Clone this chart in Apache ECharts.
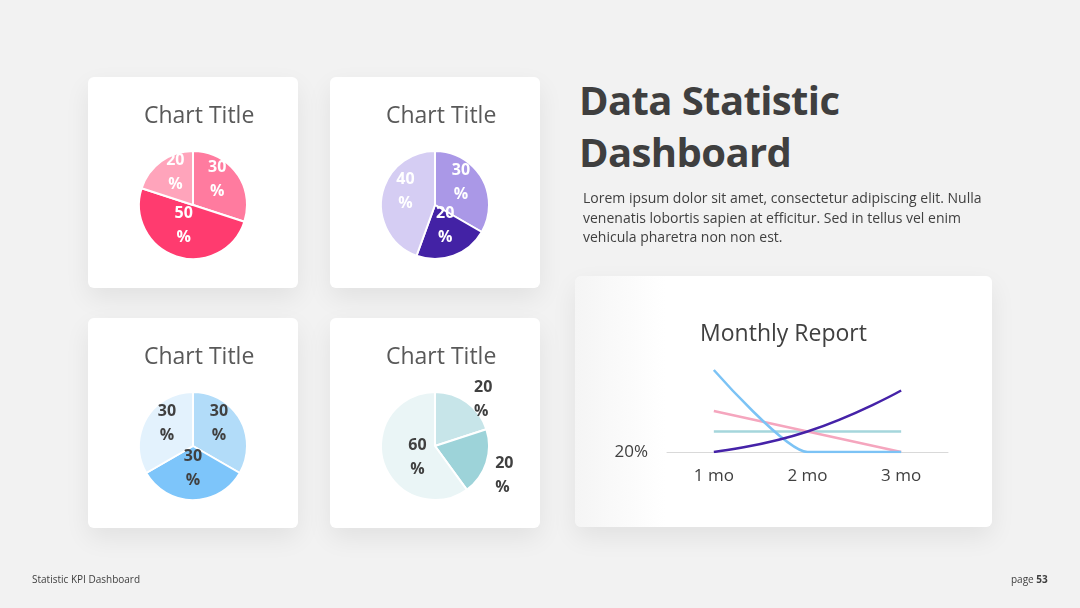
<!DOCTYPE html>
<html>
<head>
<meta charset="utf-8">
<script src="https://cdn.jsdelivr.net/npm/echarts@6/dist/echarts.min.js"></script>
<style>
  html, body { margin: 0; padding: 0; }
  body {
    width: 1080px; height: 608px; position: relative; overflow: hidden;
    background: #f2f2f2; font-family: "Open Sans", "Noto Sans", sans-serif; color: #404040;
  }
  .card {
    position: absolute; background: #fff; border-radius: 6px;
    box-shadow: 0 10px 26px rgba(0, 0, 0, 0.07);
  }
  #line-report { background: linear-gradient(to right, #f5f5f5, #ffffff 90px); }
  #title {
    position: absolute; left: 579px; top: 74px; margin: 0;
    font-size: 40px; line-height: 52px; font-weight: 700; color: #3f3f3f; letter-spacing: -0.6px;
  }
  #desc {
    position: absolute; left: 583px; top: 188px; margin: 0;
    font-size: 14px; line-height: 19.5px; color: #404040;
  }
  #footer-left { position: absolute; left: 32px; top: 572px; font-size: 10px; color: #404040; }
  #footer-right { position: absolute; left: 1011px; top: 572px; font-size: 10px; color: #404040; }
</style>
</head>
<body>
  <div class="card" id="pie-1" style="left:88px;top:77px;width:210px;height:211px"></div>
  <div class="card" id="pie-2" style="left:330px;top:77px;width:210px;height:211px"></div>
  <div class="card" id="pie-3" style="left:88px;top:318px;width:210px;height:210px"></div>
  <div class="card" id="pie-4" style="left:330px;top:318px;width:210px;height:210px"></div>
  <div class="card" id="line-report" style="left:575px;top:276px;width:417px;height:251px"></div>

  <h1 id="title">Data Statistic<br>Dashboard</h1>
  <p id="desc">Lorem ipsum dolor sit amet, consectetur adipiscing elit. Nulla<br>venenatis lobortis sapien at efficitur. Sed in tellus vel enim<br>vehicula pharetra non non est.</p>
  <div id="footer-left">Statistic KPI Dashboard</div>
  <div id="footer-right">page <b>53</b></div>

<script>
"use strict";

// pie charts (clockwise from 12 o'clock)
var pieTitle = "Chart Title";
var pie1Values = [30, 50, 20];
var pie2Values = [30, 20, 40];
var pie3Values = [30, 30, 30];
var pie4Values = [20, 20, 60];

// monthly report
var months = ["1 mo", "2 mo", "3 mo"];
var blueValues = [40, 20, 20];
var pinkValues = [30, 25, 20];
var tealValues = [25, 25, 25];
var purpleValues = [20, 25, 35];
var yTicks = [20, 30, 40];

var pieColors1 = ["#ff7b9f", "#ff3b6f", "#ffa4bb"];
var pieColors2 = ["#aa98e7", "#4322a5", "#d5cdf3"];
var pieColors3 = ["#b2dcf9", "#7dc5fa", "#e3f2fd"];
var pieColors4 = ["#c7e5e9", "#9dd3d9", "#eaf5f6"];

// powerpoint puts the inside labels a bit higher than echarts does,
// a short empty last line lifts the text a few px
var liftUp = { formatter: "{c}\n%\n{gap|}" };

function pieOption(values, colors, labelColor, labelTweaks) {
  return {
    animation: false,
    title: {
      text: pieTitle,
      left: 51,
      top: 23,
      textStyle: { fontFamily: "Open Sans", fontSize: 23, fontWeight: "normal", color: "#595959" },
    },
    series: [
      {
        type: "pie",
        center: [105, 128],
        radius: 54,
        startAngle: 90,
        clockwise: true,
        avoidLabelOverlap: false,
        itemStyle: { borderColor: "#fff", borderWidth: 2 },
        label: {
          show: true,
          position: "inside",
          formatter: "{c}\n%",
          color: labelColor,
          fontFamily: "Open Sans",
          fontWeight: "bold",
          fontSize: 16,
          lineHeight: 24,
          rich: { gap: { lineHeight: 16, fontSize: 1 } },
        },
        labelLine: { show: false },
        labelLayout: { hideOverlap: false },
        data: values.map(function (v, i) {
          var item = { value: v, itemStyle: { color: colors[i] } };
          var tweak = labelTweaks ? labelTweaks[i] : liftUp;
          if (tweak) {
            item.label = tweak;
            if (tweak.position === "outside") {
              item.labelLine = { show: false, length: 4, length2: 0 };
            }
          }
          return item;
        }),
      },
    ],
  };
}

var pie1 = echarts.init(document.getElementById("pie-1"));
pie1.setOption(pieOption(pie1Values, pieColors1, "#ffffff"));

var pie2 = echarts.init(document.getElementById("pie-2"));
pie2.setOption(pieOption(pie2Values, pieColors2, "#ffffff"));

var pie3 = echarts.init(document.getElementById("pie-3"));
pie3.setOption(pieOption(pie3Values, pieColors3, "#404040"));

var pie4 = echarts.init(document.getElementById("pie-4"));
pie4.setOption(
  pieOption(pie4Values, pieColors4, "#404040", [
    { position: "outside", align: "left" },
    { position: "outside", align: "left", formatter: "\n{c}\n%" },
    { padding: [4, 0, 0, 22] },
  ])
);

function lineSeries(name, data, color, smooth) {
  return {
    name: name,
    type: "line",
    data: data,
    smooth: smooth,
    symbol: "none",
    lineStyle: { color: color, width: 2.5 },
  };
}

var lineChart = echarts.init(document.getElementById("line-report"));
lineChart.setOption({
  animation: false,
  title: {
    text: "Monthly Report",
    left: "center",
    top: 42,
    textStyle: { fontFamily: "Open Sans", fontSize: 23, fontWeight: "normal", color: "#404040" },
  },
  grid: { left: 92, right: 44, top: 94, bottom: 75 },
  xAxis: {
    type: "category",
    data: months,
    boundaryGap: true,
    axisLine: { lineStyle: { color: "#d9d9d9", width: 1 } },
    axisTick: { show: false },
    axisLabel: { color: "#404040", fontSize: 17, fontFamily: "Open Sans", margin: 16 },
  },
  yAxis: {
    type: "value",
    min: yTicks[0],
    max: yTicks[yTicks.length - 1],
    interval: yTicks[1] - yTicks[0],
    splitLine: { show: false },
    axisLine: { show: false },
    axisTick: { show: false },
    axisLabel: {
      color: "#404040",
      fontSize: 17,
      fontFamily: "Open Sans",
      margin: 19,
      formatter: function (v) {
        return v === yTicks[0] ? v + "%" : "";
      },
    },
  },
  series: [
    lineSeries("Series 4", tealValues, "#a5d6dc", 0.5),
    lineSeries("Series 2", pinkValues, "#f5a6be", 0.5),
    lineSeries("Series 1", blueValues, "#7cc3f5", 0.2),
    lineSeries("Series 3", purpleValues, "#4522a8", 0.5),
  ],
});
</script>
</body>
</html>
